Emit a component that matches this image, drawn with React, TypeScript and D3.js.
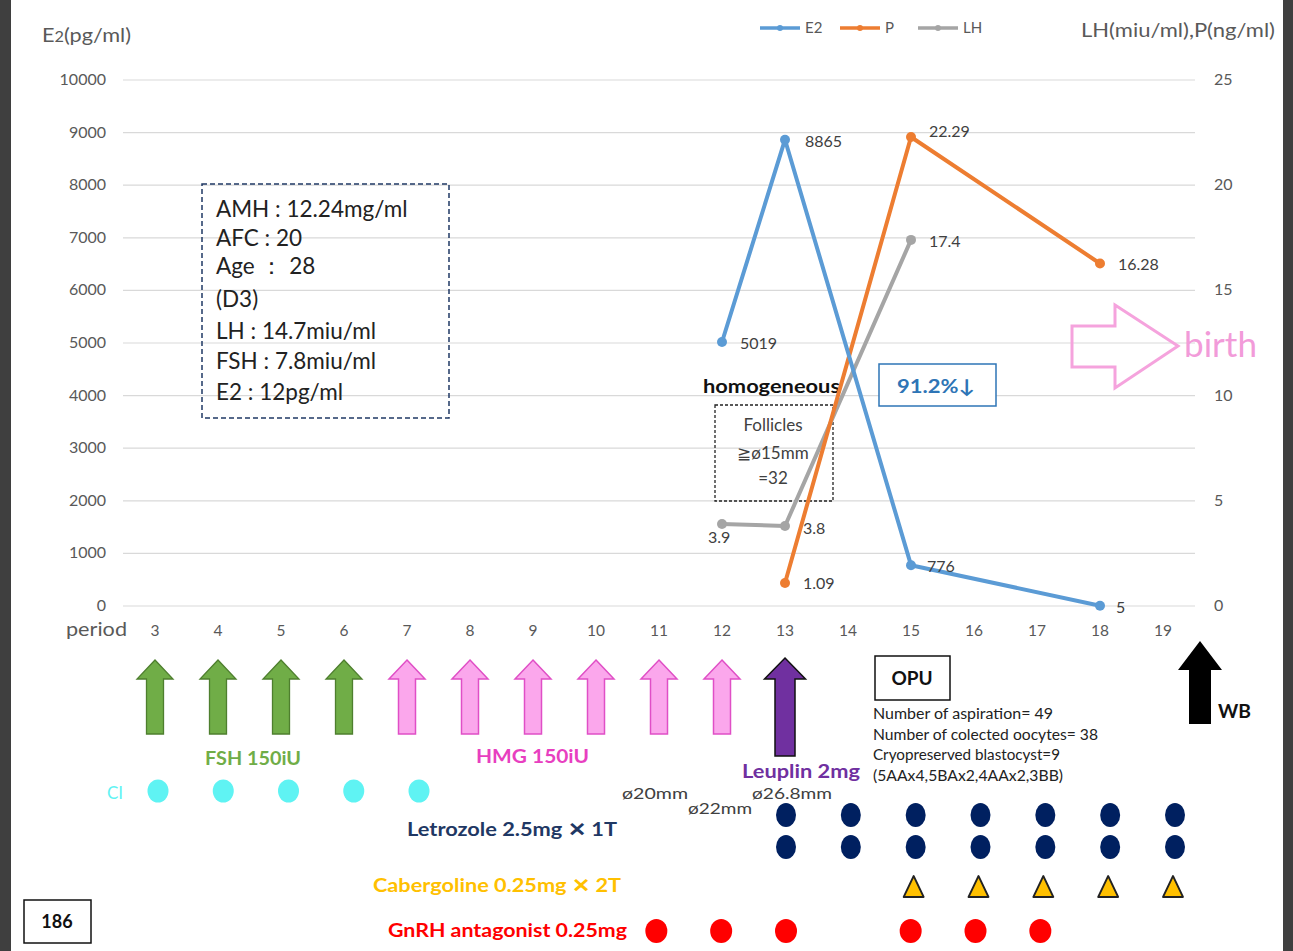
import React from "react";
import * as d3 from "d3";

const periods = [3, 4, 5, 6, 7, 8, 9, 10, 11, 12, 13, 14, 15, 16, 17, 18, 19];
const leftTicks = [0, 1000, 2000, 3000, 4000, 5000, 6000, 7000, 8000, 9000, 10000];
const rightTicks = [0, 5, 10, 15, 20, 25];

const e2Days = [12, 13, 15, 18];
const e2Vals = [5019, 8865, 776, 5];
const pDays = [13, 15, 18];
const pVals = [1.09, 22.29, 16.28];
const lhDays = [12, 13, 15];
const lhVals = [3.9, 3.8, 17.4];

const fshDays = [3, 4, 5, 6];
const hmgDays = [7, 8, 9, 10, 11, 12];
const leuplinDays = [13];
const ciDays = [3, 4, 5, 6, 7];
const letrozoleDays = [13, 14, 15, 16, 17, 18, 19];
const cabergolineDays = [15, 16, 17, 18, 19];
const gnrhDays = [11, 12, 13, 15, 16, 17];

const infoLines = [
  "AMH : 12.24mg/ml",
  "AFC : 20",
  "Age \uFF1A 28",
  "(D3)",
  "LH : 14.7miu/ml",
  "FSH : 7.8miu/ml",
  "E2 : 12pg/ml",
];
const opuLines = [
  "Number of aspiration= 49",
  "Number of colected oocytes= 38",
  "Cryopreserved blastocyst=9",
  "(5AAx4,5BAx2,4AAx2,3BB)",
];

const C_E2 = "#5B9BD5";
const C_P = "#ED7D31";
const C_LH = "#A5A5A5";
const FONT = "Lato, 'Open Sans', sans-serif";

function arrowPath(cx: number, top: number, headBase: number, bottom: number, headW: number, shaftW: number) {
  const h = headW / 2, s = shaftW / 2;
  return `M${cx},${top} L${cx + h},${headBase} L${cx + s},${headBase} L${cx + s},${bottom} L${cx - s},${bottom} L${cx - s},${headBase} L${cx - h},${headBase} Z`;
}

export default function App() {
  const W = 1293, H = 951;
  const x = d3.scaleBand<number>().domain(periods).range([123.5, 1194.5]);
  const cx = (d: number) => (x(d) as number) + x.bandwidth() / 2;
  const yL = d3.scaleLinear().domain([0, 10000]).range([606, 80]);
  const yR = d3.scaleLinear().domain([0, 25]).range([606, 80]);
  const xm = d3.scaleLinear().domain([13, 19]).range([786, 1175]);
  const xci = d3.scaleLinear().domain([3, 7]).range([158, 419]);

  const mk = (days: number[], vals: number[], ys: d3.ScaleLinear<number, number>) =>
    days.map((d, i) => [cx(d), ys(vals[i])] as [number, number]);
  const e2Pts = mk(e2Days, e2Vals, yL);
  const pPts = mk(pDays, pVals, yR);
  const lhPts = mk(lhDays, lhVals, yR);
  const line = d3.line();

  const e2LabelOff: [number, number][] = [[18, 7], [20, 7], [16, 7], [16, 7]];
  const pLabelOff: [number, number][] = [[18, 6], [18, 0], [18, 7]];
  const lhLabelOff: [number, number][] = [[-14, 19], [18, 8], [18, 7]];

  const gray = "#595959";

  return (
    <svg width={W} height={H} style={{ position: "absolute", left: 0, top: 0, background: "#fff" }} fontFamily={FONT}>
      <rect x={0} y={0} width={W} height={H} fill="#fff" />
      {/* slide frame edges */}
      <rect x={0} y={0} width={11} height={H} fill="#3f3f3f" />
      <rect x={1283} y={0} width={10} height={H} fill="#3f3f3f" />

      {/* gridlines */}
      {leftTicks.map((t) => (
        <line key={t} x1={123} x2={1195} y1={yL(t)} y2={yL(t)} stroke="#d9d9d9" strokeWidth={1.2} />
      ))}
      {leftTicks.map((t) => (
        <text key={"l" + t} x={106} y={yL(t) + 5} textAnchor="end" fontSize={16} fill={gray}>{t}</text>
      ))}
      {rightTicks.map((t) => (
        <text key={"r" + t} x={1214} y={yR(t) + 5} fontSize={16} fill={gray}>{t}</text>
      ))}
      <text x={42} y={42} fontSize={20} fill={gray} textLength={89} lengthAdjust="spacingAndGlyphs">E<tspan fontSize={15}>2</tspan>(pg/ml)</text>
      <text x={1081} y={37} fontSize={19} fill={gray} textLength={194} lengthAdjust="spacingAndGlyphs">LH(miu/ml),P(ng/ml)</text>

      {/* x axis labels */}
      <text x={66} y={636} fontSize={19} fill={gray} textLength={61} lengthAdjust="spacingAndGlyphs">period</text>
      {periods.map((p) => (
        <text key={"x" + p} x={cx(p)} y={636} textAnchor="middle" fontSize={15.5} fill={gray}>{p}</text>
      ))}

      {/* legend */}
      {[
        { n: "E2", c: C_E2, x0: 760 },
        { n: "P", c: C_P, x0: 840 },
        { n: "LH", c: C_LH, x0: 918 },
      ].map((l) => (
        <g key={l.n}>
          <line x1={l.x0} x2={l.x0 + 40} y1={28} y2={28} stroke={l.c} strokeWidth={3.5} />
          <circle cx={l.x0 + 20} cy={28} r={3} fill={l.c} />
          <text x={l.x0 + 45} y={33} fontSize={15} fill={gray}>{l.n}</text>
        </g>
      ))}

      {/* info box */}
      <rect x={202} y={184} width={247} height={234} fill="none" stroke="#1F3864" strokeWidth={1.5} strokeDasharray="5,3" />
      {infoLines.map((t, i) => (
        <text key={t} x={216} y={[217, 246, 274, 307, 339, 369, 400][i]} fontSize={22.5} fill="#222">{t}</text>
      ))}

      {/* annotations in plot */}
      <text x={703} y={393} fontSize={19} fontWeight="bold" fill="#111" textLength={137} lengthAdjust="spacingAndGlyphs">homogeneous</text>
      <rect x={715} y={405} width={118} height={96} fill="none" stroke="#222" strokeWidth={1.3} strokeDasharray="3,2" />
      <text x={773} y={431} textAnchor="middle" fontSize={17} fill="#404040">Follicles</text>
      <text x={773} y={459} textAnchor="middle" fontSize={17} fill="#404040">{"\u2267\u00f815mm"}</text>
      <text x={773} y={484} textAnchor="middle" fontSize={17} fill="#404040">=32</text>
      <rect x={879} y={364} width={117} height={42} fill="#fff" stroke="#2E75B6" strokeWidth={1.5} />
      <text x={897} y={393} fontSize={19} fontWeight="bold" fill="#2E75B6" textLength={78} lengthAdjust="spacingAndGlyphs">{"91.2%\u2193"}</text>

      {/* series */}
      <path d={line(lhPts) as string} fill="none" stroke={C_LH} strokeWidth={4} strokeLinejoin="round" />
      <path d={line(pPts) as string} fill="none" stroke={C_P} strokeWidth={4} strokeLinejoin="round" />
      <path d={line(e2Pts) as string} fill="none" stroke={C_E2} strokeWidth={4} strokeLinejoin="round" />
      {lhPts.map((p, i) => <circle key={"lh" + i} cx={p[0]} cy={p[1]} r={5} fill={C_LH} />)}
      {pPts.map((p, i) => <circle key={"p" + i} cx={p[0]} cy={p[1]} r={5} fill={C_P} />)}
      {e2Pts.map((p, i) => <circle key={"e" + i} cx={p[0]} cy={p[1]} r={5} fill={C_E2} />)}
      {e2Pts.map((p, i) => (
        <text key={"et" + i} x={p[0] + e2LabelOff[i][0]} y={p[1] + e2LabelOff[i][1]} fontSize={16} fill="#404040">{e2Vals[i]}</text>
      ))}
      {pPts.map((p, i) => (
        <text key={"pt" + i} x={p[0] + pLabelOff[i][0]} y={p[1] + pLabelOff[i][1]} fontSize={16} fill="#404040">{pVals[i]}</text>
      ))}
      {lhPts.map((p, i) => (
        <text key={"lt" + i} x={p[0] + lhLabelOff[i][0]} y={p[1] + lhLabelOff[i][1]} fontSize={16} fill="#404040">{lhVals[i]}</text>
      ))}

      {/* birth arrow */}
      <path d="M1072,326 L1115,326 L1115,305 L1178,346 L1115,388 L1115,367 L1072,367 Z" fill="none" stroke="#F5A3DD" strokeWidth={3} />
      <text x={1184} y={357} fontSize={35} fill="#F29BD9" textLength={73} lengthAdjust="spacingAndGlyphs">birth</text>

      {/* injection arrows */}
      {fshDays.map((d) => (
        <path key={"f" + d} d={arrowPath(cx(d), 660, 679, 734, 36, 17)} fill="#70AD47" stroke="#4E7F2E" strokeWidth={1.3} />
      ))}
      {hmgDays.map((d) => (
        <path key={"h" + d} d={arrowPath(cx(d), 660, 679, 734, 36, 17)} fill="#FBA7EC" stroke="#E04FC6" strokeWidth={1.5} />
      ))}
      {leuplinDays.map((d) => (
        <path key={"lp" + d} d={arrowPath(cx(d), 658, 679, 756, 41, 20)} fill="#7030A0" stroke="#111" strokeWidth={1.5} />
      ))}
      <path d={arrowPath(1200, 641, 670, 724, 44, 22)} fill="#000" />
      <text x={1218} y={718} fontSize={19} fontWeight="bold" fill="#111" textLength={33} lengthAdjust="spacingAndGlyphs">WB</text>

      <text x={205} y={765} fontSize={19} fontWeight="bold" fill="#70AD47" textLength={96} lengthAdjust="spacingAndGlyphs">FSH 150iU</text>
      <text x={476} y={763} fontSize={19} fontWeight="bold" fill="#E83FC0" textLength={113} lengthAdjust="spacingAndGlyphs">HMG 150iU</text>
      <text x={742} y={778} fontSize={19} fontWeight="bold" fill="#7030A0" textLength={118} lengthAdjust="spacingAndGlyphs">Leuplin 2mg</text>

      {/* OPU */}
      <rect x={875} y={656} width={75} height={44} fill="#fff" stroke="#111" strokeWidth={1.5} />
      <text x={912} y={685} textAnchor="middle" fontSize={19} fontWeight="bold" fill="#111">OPU</text>
      {opuLines.map((t, i) => (
        <text key={t} x={873} y={719 + i * 20.5} fontSize={14.5} fill="#222" textLength={[180, 225, 187, 190][i]} lengthAdjust="spacingAndGlyphs">{t}</text>
      ))}

      {/* follicle sizes */}
      <text x={622} y={799} fontSize={16} fill="#404040" textLength={66} lengthAdjust="spacingAndGlyphs">{"\u00f820mm"}</text>
      <text x={688} y={814} fontSize={16} fill="#404040" textLength={64} lengthAdjust="spacingAndGlyphs">{"\u00f822mm"}</text>
      <text x={752} y={799} fontSize={16} fill="#404040" textLength={80} lengthAdjust="spacingAndGlyphs">{"\u00f826.8mm"}</text>

      {/* CI */}
      <text x={107} y={799} fontSize={17} fill="#5FF3F3">CI</text>
      {ciDays.map((d) => (
        <ellipse key={"ci" + d} cx={xci(d)} cy={791} rx={10.5} ry={11.5} fill="#5FF3F3" />
      ))}

      {/* Letrozole */}
      <text x={407} y={836} fontSize={19} fontWeight="bold" fill="#1F3864" textLength={210} lengthAdjust="spacingAndGlyphs">{"Letrozole 2.5mg \u2715 1T"}</text>
      {letrozoleDays.map((d) => (
        <g key={"lz" + d}>
          <ellipse cx={xm(d)} cy={815} rx={10} ry={12} fill="#002060" />
          <ellipse cx={xm(d)} cy={847} rx={10} ry={12} fill="#002060" />
        </g>
      ))}

      {/* Cabergoline */}
      <text x={373} y={892} fontSize={19} fontWeight="bold" fill="#FFC000" textLength={248} lengthAdjust="spacingAndGlyphs">{"Cabergoline 0.25mg \u2715 2T"}</text>
      {cabergolineDays.map((d) => {
        const c = xm(d) - 2;
        return <path key={"cb" + d} d={`M${c},876 L${c + 10},897 L${c - 10},897 Z`} fill="#FFC000" stroke="#222" strokeWidth={1.8} strokeLinejoin="round" />;
      })}

      {/* GnRH */}
      <text x={388} y={937} fontSize={19} fontWeight="bold" fill="#FF0000" textLength={239} lengthAdjust="spacingAndGlyphs">GnRH antagonist 0.25mg</text>
      {gnrhDays.map((d) => (
        <ellipse key={"g" + d} cx={xm(d) - (d > 13 ? 5 : 0)} cy={931} rx={11} ry={12} fill="#FF0000" />
      ))}

      {/* page number */}
      <rect x={24} y={900} width={67} height={43} fill="#fff" stroke="#111" strokeWidth={1.5} />
      <text x={57} y={928} textAnchor="middle" fontSize={18} fontWeight="bold" fill="#111">186</text>
    </svg>
  );
}
